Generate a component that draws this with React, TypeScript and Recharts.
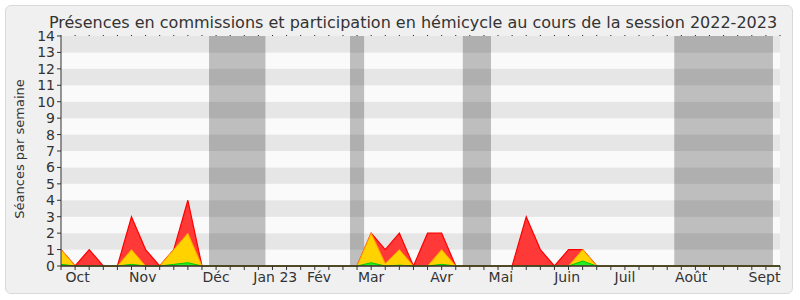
import React from "react";
import { ComposedChart, Area, XAxis, YAxis, ReferenceArea, ReferenceLine } from "recharts";

// one point per week of the session, Oct 2022 -> Sept 2023
const weeks = Array.from({ length: 52 }, (_, i) => i);

const presence = [
  1, 0, 1, 0, 0, 3, 1, 0, 1, 4, 0,
  0, 0, 0, 0, 0, 0, 0, 0, 0, 0, 0,
  2, 1, 2, 0, 2, 2, 0,
  0, 0, 0, 0,
  3, 1, 0, 1, 1, 0,
  0, 0, 0, 0, 0, 0, 0, 0, 0, 0, 0, 0, 0,
];
const commissions = [
  1, 0, 0, 0, 0, 1, 0, 0, 1, 2, 0,
  0, 0, 0, 0, 0, 0, 0, 0, 0, 0, 0,
  2, 0.15, 1, 0, 0, 1, 0,
  0, 0, 0, 0,
  0, 0, 0, 0, 1, 0,
  0, 0, 0, 0, 0, 0, 0, 0, 0, 0, 0, 0, 0,
];
const hemicycle = [
  0.1, 0, 0, 0, 0, 0.1, 0, 0, 0.1, 0.2, 0,
  0, 0, 0, 0, 0, 0, 0, 0, 0, 0, 0,
  0.2, 0, 0.05, 0, 0, 0.1, 0,
  0, 0, 0, 0,
  0, 0, 0, 0, 0.3, 0,
  0, 0, 0, 0, 0, 0, 0, 0, 0, 0, 0, 0, 0,
];

const monthNames = ["Oct", "Nov", "Déc", "Jan 23", "Fév", "Mar", "Avr", "Mai", "Juin", "Juil", "Août", "Sept"];
const monthPos = [1.18, 5.8, 11.0, 15.2, 18.3, 22.0, 27.0, 31.2, 35.9, 40.0, 44.7, 49.9];

// parliamentary holidays, in week units
const holidays = [
  [10.5, 14.5],
  [20.5, 21.5],
  [28.5, 30.5],
  [43.5, 50.5],
];

const yTicks = Array.from({ length: 15 }, (_, i) => i);

const rows = weeks.map((i) => ({
  i,
  presence: presence[i],
  commissions: commissions[i],
  hemicycle: hemicycle[i],
}));

const font = "'DejaVu Sans', sans-serif";
const tickStyle = { fill: "#333", fontSize: 14, fontFamily: font };

export default function App() {
  return (
    <div style={{ position: "absolute", left: 0, top: 0, width: 800, height: 300, background: "#fff" }}>
      <div
        style={{
          position: "absolute",
          left: 5,
          top: 5,
          width: 786,
          height: 287,
          background: "#f0f0f0",
          border: "1px solid #d9d9d9",
          borderRadius: 6,
        }}
      />
      <ComposedChart
        width={800}
        height={300}
        data={rows}
        margin={{ top: 34, right: 20, left: 0, bottom: 6 }}
        style={{ position: "absolute", left: 0, top: 0 }}
      >
        <XAxis
          xAxisId="a"
          dataKey="i"
          type="number"
          domain={[0, 51]}
          ticks={weeks}
          interval={0}
          height={4}
          tickSize={4}
          tick={() => <g />}
          stroke="#333"
        />
        <XAxis
          xAxisId="b"
          dataKey="i"
          type="number"
          domain={[0, 51]}
          ticks={monthPos}
          interval={0}
          height={24}
          tickSize={0}
          tickMargin={2}
          axisLine={false}
          tickLine={false}
          tick={tickStyle}
          tickFormatter={(v) => monthNames[monthPos.indexOf(v)]}
        />
        <XAxis
          xAxisId="c"
          orientation="top"
          dataKey="i"
          type="number"
          domain={[0, 51]}
          ticks={weeks}
          interval={0}
          height={2}
          tickSize={1}
          axisLine={false}
          tick={() => <g />}
          stroke="#222"
        />
        <YAxis
          yAxisId="y"
          type="number"
          domain={[0, 14]}
          ticks={yTicks}
          interval={0}
          width={61}
          tickSize={4}
          tickMargin={2}
          tick={tickStyle}
          stroke="#333"
        />
        {yTicks.slice(0, -1).map((v) => (
          <ReferenceArea
            key={"s" + v}
            xAxisId="a"
            yAxisId="y"
            y1={v}
            y2={v + 1}
            fill={v % 2 ? "#e6e6e6" : "#fafafa"}
            fillOpacity={1}
            stroke="none"
          />
        ))}
        {holidays.map(([a, b]) => (
          <ReferenceArea
            key={"h" + a}
            xAxisId="a"
            yAxisId="y"
            x1={a}
            x2={b}
            fill="#000"
            fillOpacity={0.24}
            stroke="none"
          />
        ))}
        <Area
          xAxisId="a"
          yAxisId="y"
          type="linear"
          dataKey="presence"
          fill="#ff3838"
          fillOpacity={1}
          stroke="#ff0000"
          strokeWidth={1.2}
          dot={false}
          activeDot={false}
          isAnimationActive={false}
        />
        <Area
          xAxisId="a"
          yAxisId="y"
          type="linear"
          dataKey="commissions"
          fill="#ffd200"
          fillOpacity={1}
          stroke="#ffa000"
          strokeWidth={1}
          dot={false}
          activeDot={false}
          isAnimationActive={false}
        />
        <Area
          xAxisId="a"
          yAxisId="y"
          type="linear"
          dataKey="hemicycle"
          fill="#22ee22"
          fillOpacity={1}
          stroke="#00cc00"
          strokeWidth={1}
          dot={false}
          activeDot={false}
          isAnimationActive={false}
        />
        <ReferenceLine xAxisId="a" yAxisId="y" y={0} stroke="#5a1a10" strokeWidth={1.2} />
      </ComposedChart>
      <svg width={800} height={300} style={{ position: "absolute", left: 0, top: 0, pointerEvents: "none" }}>
        <text x={413} y={28} textAnchor="middle" fontFamily={font} fontSize={16} fill="#333">
          Présences en commissions et participation en hémicycle au cours de la session 2022-2023
        </text>
        <text
          x={24}
          y={149}
          transform="rotate(-90 24 149)"
          textAnchor="middle"
          fontFamily={font}
          fontSize={13}
          fill="#333"
        >
          Séances par semaine
        </text>
      </svg>
    </div>
  );
}
